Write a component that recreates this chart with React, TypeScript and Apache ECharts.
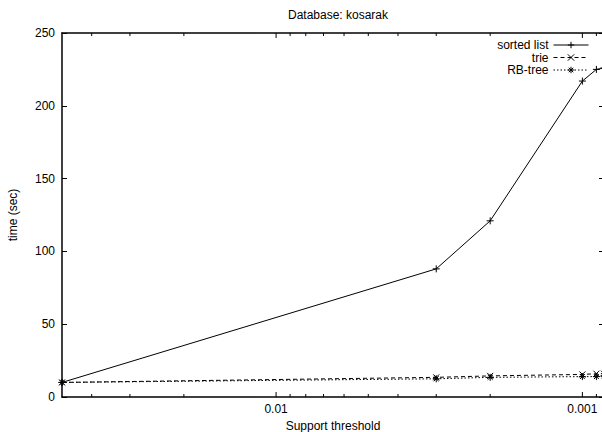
import React, { useEffect, useRef } from "react";
import * as echarts from "echarts";

const xValues = [0.05, 0.003, 0.002, 0.001, 0.0009, 0.00085];
const sortedList = [10, 88, 121, 217, 225, 226];
const trie = [10, 13.5, 14.5, 15.5, 16, 16];
const rbTree = [10, 12.5, 13.5, 14, 14, 14.5];
const majorTicks = [0.01, 0.001];
const minorTicks = [0.04, 0.03, 0.02, 0.009, 0.008, 0.007, 0.006, 0.005, 0.004, 0.003, 0.002, 0.0009];
const seriesNames = ["sorted list", "trie", "RB-tree"];

const FONT = "'Liberation Sans', Arial, Helvetica, sans-serif";
const PLUS = "path://M5,0L5,10M0,5L10,5";
const CROSS = "path://M0,0L10,10M0,10L10,0";
const STAR = "path://M5,0L5,10M0,5L10,5M1.5,1.5L8.5,8.5M1.5,8.5L8.5,1.5";

export default function App() {
  const ref = useRef<HTMLDivElement>(null);
  useEffect(() => {
    document.body.style.margin = "0";
    if (!ref.current) return;
    const chart = echarts.init(ref.current, null, { renderer: "svg" });
    const pairs = (ys: number[]) => xValues.map((x, i) => [x, ys[i]]);
    const axisLine = { show: true, onZero: false, lineStyle: { color: "#000", width: 1.5 } };
    const tick = { show: true, inside: true, length: 5, lineStyle: { color: "#000", width: 1 } };
    const lineSeries = (name: string, ys: number[], symbol: string, size: number, type: any) => ({
      name,
      type: "line",
      data: pairs(ys),
      symbol,
      symbolSize: size,
      showSymbol: true,
      lineStyle: { color: "#000", width: 1, type },
      itemStyle: { color: "#000", borderColor: "#000", borderWidth: 1 },
      z: 3,
    });
    const tickSeries = (values: number[], len: number) => ({
      type: "custom",
      silent: true,
      clip: false,
      xAxisIndex: 0,
      yAxisIndex: 0,
      encode: { x: 0, y: 1 },
      z: 5,
      data: values.map((v) => [v, 0]),
      renderItem: (params: any, api: any) => {
        const x = api.coord([api.value(0), 0])[0];
        const bottom = api.coord([api.value(0), 0])[1];
        const top = api.coord([api.value(0), 250])[1];
        return {
          type: "group",
          children: [
            { type: "line", shape: { x1: x, y1: bottom, x2: x, y2: bottom - len }, style: { stroke: "#000", lineWidth: 1 } },
            { type: "line", shape: { x1: x, y1: top, x2: x, y2: top + len }, style: { stroke: "#000", lineWidth: 1 } },
          ],
        };
      },
    });
    const xCommon = {
      type: "log",
      logBase: 10,
      min: 0.00085,
      max: 0.05,
      inverse: true,
      axisLine,
      axisTick: { show: false },
      splitLine: { show: false },
    };
    chart.setOption({
      animation: false,
      textStyle: { fontFamily: FONT, color: "#000" },
      title: {
        text: "Database: kosarak",
        left: 333,
        top: 4,
        textAlign: "center",
        textStyle: { fontSize: 12, fontWeight: "normal", color: "#000", fontFamily: FONT },
      },
      legend: {
        data: seriesNames,
        orient: "vertical",
        align: "right",
        right: 13,
        top: 39,
        padding: 0,
        itemGap: 0.5,
        itemWidth: 35,
        itemHeight: 8,
        lineStyle: { width: 1 },
        itemStyle: { borderWidth: 1, color: "#000", borderColor: "#000" },
        textStyle: { fontSize: 12, color: "#000", fontFamily: FONT, lineHeight: 12 },
      },
      grid: { left: 62, right: -2, top: 33, bottom: 35, containLabel: false, outerBoundsMode: "none" },
      xAxis: [
        {
          ...xCommon,
          position: "bottom",
          name: "Support threshold",
          nameLocation: "middle",
          nameGap: 22,
          nameTextStyle: { fontSize: 12, color: "#000", fontFamily: FONT },
          axisLabel: { show: true, fontSize: 12, color: "#000", margin: 6, showMinLabel: false, showMaxLabel: false, fontFamily: FONT },
        },
        {
          ...xCommon,
          position: "top",
          axisLabel: { show: false },
        },
      ],
      yAxis: [
        {
          type: "value",
          min: 0,
          max: 250,
          interval: 50,
          position: "left",
          name: "time (sec)",
          nameLocation: "middle",
          nameGap: 43,
          nameRotate: 90,
          nameTextStyle: { fontSize: 12, color: "#000", fontFamily: FONT },
          axisLine,
          axisTick: tick,
          splitLine: { show: false },
          axisLabel: { fontSize: 12, color: "#000", margin: 7, fontFamily: FONT },
        },
        {
          type: "value",
          min: 0,
          max: 250,
          interval: 50,
          position: "right",
          axisLine,
          axisTick: tick,
          splitLine: { show: false },
          axisLabel: { show: false },
        },
      ],
      series: [
        lineSeries(seriesNames[0], sortedList, PLUS, 7, "solid"),
        lineSeries(seriesNames[1], trie, CROSS, 6, [4, 3]),
        lineSeries(seriesNames[2], rbTree, STAR, 7, [1.5, 2]),
        tickSeries(majorTicks, 5),
        tickSeries(minorTicks, 3),
      ],
    });
    return () => chart.dispose();
  }, []);
  return <div ref={ref} style={{ width: 602, height: 432 }} />;
}
